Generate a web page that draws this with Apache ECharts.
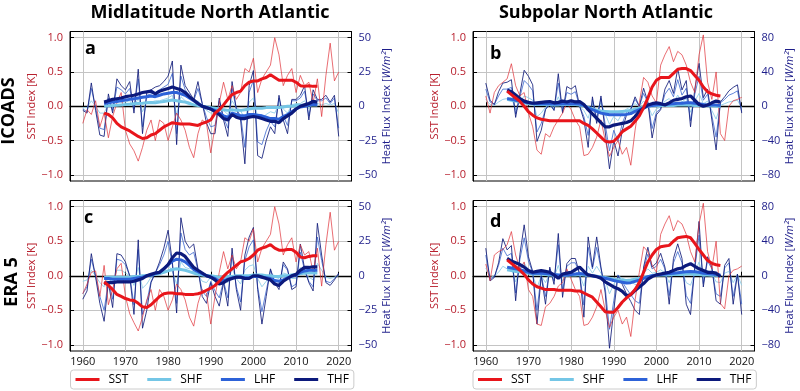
<!DOCTYPE html>
<html><head><meta charset="utf-8">
<script src="https://cdn.jsdelivr.net/npm/echarts@6/dist/echarts.min.js"></script>
<style>html,body{margin:0;padding:0;background:#fff}#c{width:800px;height:391px}</style>
</head><body><div id="c"></div>
<script>
// ---------- axes / ticks ----------
const years = []; for (let y = 1960; y <= 2020; y++) years.push(y);
const yearsSmooth = []; for (let y = 1965; y <= 2015; y++) yearsSmooth.push(y);
const xTicks = [1960, 1970, 1980, 1990, 2000, 2010, 2020];
const sstTicks = [-1, -0.5, 0, 0.5, 1];
const hfTicksMid = [-50, -25, 0, 25, 50];
const hfTicksSub = [-80, -40, 0, 40, 80];
const columnTitles = ['Midlatitude North Atlantic', 'Subpolar North Atlantic'];
const rowTitles = ['ICOADS', 'ERA 5'];
const panelLetters = ['a', 'b', 'c', 'd'];
const legendNames = ['SST', 'SHF', 'LHF', 'THF'];

// ---------- panel a (ICOADS, midlatitude) ----------
const aSST = [-0.25,-0.05,-0.12,0.08,-0.3,-0.1,-0.46,-0.15,0.05,0.2,
 -0.35,-0.55,-0.65,-0.8,-0.6,-0.35,-0.2,-0.5,-0.2,-0.25,
 -0.5,-0.3,-0.1,-0.2,-0.35,-0.6,-0.75,-0.4,-0.2,-0.25,
 -0.68,-0.3,0.05,0.35,0.1,0.3,0.1,0.2,0.55,0.5,
 0.7,0.2,0.4,0.5,0.6,1.0,0.75,0.3,0.45,0.55,
 0.2,0.45,0.3,0.35,0.05,0.4,-0.15,0.45,0.92,0.37,
 0.5];
const aTHF = [-3,-5,17,-3,-21,-22,9,-5,20,15,
 12,18,-5,27,-20,10,12,14,15,18,
 22,33,-28,30,15,10,5,18,2,-12,
 -20,-20,6,-10,-22,18,-2,-10,-42,15,
 26,-36,-38,-25,-15,-20,8,-10,-20,5,
 5,8,15,-10,12,5,5,8,3,8,
 -22];
const aLHF = [-2,-4,13,-1,-16,-17,6,-3,14,12,
 9,13,-2,20,-15,8,9,10,12,14,
 16,24,-20,22,12,8,4,13,2,-8,
 -15,-14,4,-8,-16,13,-2,-7,-30,10,
 19,-26,-28,-18,-11,-15,6,-7,-14,4,
 4,6,11,-7,9,4,4,6,2,6,
 -16];
const aSHF = [-1,-1,4,0,-5,-5,2,-1,5,3,
 3,4,-1,6,-4,3,3,4,4,5,
 6,8,-6,7,4,3,1,4,0,-3,
 -5,-5,1,-3,-6,4,-1,-3,-10,3,
 6,-8,-9,-6,-4,-5,2,-2,-5,1,
 2,2,4,-2,3,2,1,2,1,2,
 -5];
const aSSTs = [-0.1,-0.12,-0.17,-0.25,-0.3,-0.33,-0.36,-0.4,-0.44,-0.47,
 -0.46,-0.42,-0.4,-0.35,-0.3,-0.27,-0.24,-0.25,-0.26,-0.26,
 -0.26,-0.27,-0.28,-0.25,-0.23,-0.2,-0.1,-0.05,0.02,0.1,
 0.17,0.2,0.22,0.3,0.35,0.37,0.37,0.4,0.42,0.46,
 0.42,0.38,0.38,0.38,0.38,0.35,0.3,0.29,0.3,0.29,
 0.29];
const aTHFs = [3,4,5,5.5,6,7,7.5,8,9,10,
 10.5,11,9,11,12,13,14,13,12,10,
 7,4.5,2,0,-1,-2,-4,-6,-9,-10,
 -6,-8,-9,-9,-8,-7.5,-8,-9,-10,-11,
 -11,-12,-9,-7,-5,-2,0,1,2,3.5,
 3];
const aLHFs = [2,2.5,3,3.5,4,4.5,5,5.5,6,6.5,
 7,7.5,7,8,9,9.5,10,10,9,8,
 6,4,2,0,-1,-2,-3,-5,-7,-8,
 -5,-6,-7,-7,-6,-6,-6.5,-7,-8,-9,
 -9,-9.5,-7.5,-6,-4,-2,-0.5,0,1,1.5,
 1];
const aSHFs = [0,0.3,0.5,0.8,1,1.2,1.5,1.8,2,2.2,
 2.5,2.8,2.5,3,3.5,4,4.5,4,3.5,3,
 2,1,0.5,0,-0.5,-1,-1.5,-2,-2.5,-3,
 -2.5,-3,-3,-2.5,-2,-1.5,-1.5,-1.5,-1,-1,
 -1,-1,-0.5,0,0,0.5,0.5,1,1,1,
 1];

// ---------- panel b (ICOADS, subpolar) ----------
const bSST = [0.15,-0.1,0.2,0.3,0.35,0.4,0.62,0.3,0.15,0.2,
 -0.1,-0.3,-0.64,-0.7,-0.4,-0.45,-0.3,-0.2,-0.1,0.05,
 -0.05,-0.2,-0.3,-0.72,-0.7,-0.6,-0.45,-0.2,-0.5,-0.73,
 -0.6,-0.5,-0.7,-0.6,-0.86,-0.35,0.05,0.42,0.35,0.15,
 0.05,0.6,0.75,0.87,0.65,0.8,0.75,0.6,0.35,0.2,
 0.75,1.04,0.35,0.1,0.5,-0.4,-0.5,0.0,0.08,0.1,
 0.13];
const bTHF = [27,7,2,17,27,28,31,-13,15,42,
 35,25,-41,-28,-4,3,-5,38,-8,23,
 20,24,0,-16,-48,11,-20,12,-30,-73,
 -40,-58,-28,-10,-4,11,0,21,5,-37,
 -10,-4,20,30,15,44,19,30,-24,20,
 50,10,20,-16,-51,5,11,18,22,25,
 -8];
const bLHF = [20,5,2,12,20,20,22,-9,11,30,
 25,18,-30,-20,-3,2,-4,27,-6,16,
 14,17,0,-12,-34,8,-14,9,-21,-52,
 -28,-41,-20,-7,-3,8,0,15,4,-26,
 -7,-3,14,21,11,31,13,21,-17,14,
 35,7,14,-11,-36,4,8,13,15,18,
 -6];
const bSHF = [8,2,1,5,8,9,10,-4,5,12,
 10,7,-12,-8,-1,1,-2,11,-2,7,
 6,7,0,-5,-14,3,-6,4,-9,-21,
 -12,-17,-8,-3,-1,3,0,6,1,-11,
 -3,-1,6,9,4,13,5,9,-7,6,
 15,3,6,-5,-15,1,3,5,6,7,
 -2];
const bSSTs = [0.22,0.17,0.12,0.07,0,-0.08,-0.13,-0.17,-0.19,-0.2,
 -0.21,-0.21,-0.21,-0.21,-0.21,-0.21,-0.21,-0.21,-0.25,-0.28,
 -0.33,-0.39,-0.45,-0.51,-0.52,-0.51,-0.45,-0.37,-0.33,-0.29,
 -0.22,-0.14,-0.02,0.12,0.28,0.38,0.42,0.42,0.42,0.48,
 0.54,0.55,0.55,0.52,0.45,0.38,0.28,0.21,0.18,0.16,
 0.15];
const bTHFs = [19,17,13,9,6,4.5,3.5,4,4.5,5,
 5.5,4,4.5,6,5,6.5,5,5.5,2,-4,
 -9,-14,-19,-24,-24,-22,-21,-20,-19,-17,
 -12,-6,-2,1.5,3,4,3,1.5,4,7,
 8,9,11,12,7,2,0,1.5,4,6,
 5];
const bLHFs = [9,8,7,6,5,4,3.5,3,3,3,
 3,2.5,2.5,3,3,3,3,2.5,1,-2,
 -4,-6,-8,-9,-10,-10,-10,-10,-9.5,-8.5,
 -6,-4,-2,0,1,1.5,2,2,2.5,3,
 3.5,3.5,4,4,3.5,3,2,1.5,1.5,1.5,
 1];
const bSHFs = [8,7,6,5,4,3,2.5,2,2,2,
 2,1.5,1.5,2,2,2,2,1.5,0.5,-1.5,
 -3,-4.5,-5.5,-6,-6.5,-6.5,-6.5,-6,-5.5,-5,
 -3.5,-2,-1,0,0.5,0.5,1,1,1,1,
 1.5,1.5,1.5,1.5,1,1,0.5,0.5,0.5,0,
 0];

// ---------- panel c (ERA 5, midlatitude) ----------
const cSST = [-0.26,-0.12,0.05,0.07,-0.3,0.15,-0.42,-0.2,0.1,0.18,
 -0.3,-0.55,-0.68,-0.8,-0.6,-0.35,-0.2,-0.5,-0.2,-0.3,
 -0.5,-0.35,-0.12,-0.2,-0.35,-0.6,-0.73,-0.4,-0.2,-0.25,
 -0.7,-0.3,0.05,0.35,0.1,0.3,0.1,0.2,0.55,0.5,
 0.68,0.2,0.4,0.5,0.6,1.0,0.75,0.3,0.45,0.55,
 0.2,0.45,0.3,0.35,0.05,0.4,-0.15,0.45,0.92,0.37,
 0.5];
const cTHF = [-17,-11,16,-1,-20,-33,-5,-23,16,15,
 10,0,-28,26,-38,-25,-5,2,10,20,
 33,10,-27,42,25,20,23,5,-15,-20,
 -5,-15,-22,-5,-22,20,-10,-25,15,28,
 35,-10,-35,-15,5,-5,-10,10,5,-10,
 -8,23,5,-5,-11,38,15,-5,-7,-3,
 2];
const cLHF = [-13,-8,12,0,-15,-25,-4,-17,12,11,
 8,0,-21,19,-28,-19,-4,2,8,15,
 25,8,-20,31,19,15,17,4,-11,-15,
 -4,-11,-16,-4,-16,15,-8,-19,11,21,
 26,-8,-26,-11,4,-4,-8,8,4,-8,
 -6,17,4,-4,-8,28,11,-4,-5,-2,
 1];
const cSHF = [-4,-3,4,0,-5,-8,-1,-6,4,4,
 2,0,-7,6,-9,-6,-1,1,3,5,
 8,3,-6,10,6,5,6,1,-4,-5,
 -1,-4,-5,-1,-5,5,-2,-6,4,7,
 8,-2,-8,-4,1,-1,-2,2,1,-2,
 -2,6,1,-1,-3,9,4,-1,-2,-1,
 0];
const cSSTs = [-0.09,-0.14,-0.2,-0.27,-0.3,-0.33,-0.35,-0.36,-0.4,-0.45,
 -0.46,-0.42,-0.36,-0.3,-0.26,-0.25,-0.25,-0.26,-0.26,-0.27,
 -0.27,-0.27,-0.26,-0.24,-0.21,-0.18,-0.14,-0.08,-0.01,0.05,
 0.1,0.15,0.2,0.22,0.25,0.3,0.37,0.4,0.42,0.45,
 0.4,0.37,0.37,0.38,0.38,0.34,0.27,0.26,0.28,0.29,
 0.29];
const cTHFs = [-5.5,-5,-5,-4.5,-4.5,-4.5,-4.5,-4,-3,-2,
 0,1,2,2.5,5,8,13,16.5,16,14,
 10,6,4,2,0,-1,-3,-6,-5,-3,
 -2,-1,-1,-2,-2,0,0,-1,-2,-3,
 -6,-7,-4,-2,0,1,4,6,6,6.5,
 6.5];
const cLHFs = [-2,-2,-2.5,-2.5,-2.5,-2.5,-2.5,-2,-1.5,-1,
 0,0.5,1.5,2.5,5,8,10.5,12,11.5,10,
 7.5,4.5,3,1.5,0,-1,-2,-4,-3.5,-2.5,
 -1.5,-1,-1,-1.5,-1.5,-0.5,-0.5,-1,-1.5,-2,
 -3.5,-4,-3,-1.5,-0.5,0.5,2.5,3.5,4,4,
 4];
const cSHFs = [-1,-1,-1,-1,-1,-1,-1,-0.5,-0.5,0,
 0,0.5,1,1.5,2.5,3.5,4.5,5,4.5,4,
 3,2,1,0.5,0,0,-0.5,-1,-1,-0.5,
 -0.5,0,0,0,0,0.5,0.5,0.5,0,0,
 -0.5,-0.5,0,0,0.5,1,1.5,2,2,2,
 2];

// ---------- panel d (ERA 5, subpolar) ----------
const dSST = [0.17,-0.07,0.3,0.35,0.38,0.45,0.64,0.3,0.1,0.2,
 -0.2,-0.3,-0.7,-0.72,-0.45,-0.4,-0.3,-0.15,-0.1,0.1,
 -0.05,-0.2,-0.3,-0.72,-0.7,-0.6,-0.45,-0.2,-0.5,-0.75,
 -0.6,-0.5,-0.7,-0.6,-0.88,-0.35,0.05,0.42,0.35,0.15,
 0.05,0.6,0.75,0.87,0.65,0.8,0.75,0.6,0.35,0.2,
 0.75,1.05,0.35,0.1,0.5,-0.4,-0.48,0.0,0.08,0.1,
 0.14];
const dTHF = [32,-6,-2,15,43,30,35,-29,25,59,
 22,5,-56,0,-33,10,-10,49,-25,14,
 20,20,2,-48,45,10,45,10,-20,-84,
 -40,0,-10,-21,-30,-40,-45,10,33,10,
 15,26,10,-33,20,37,20,-33,-45,10,
 63,-13,22,10,-29,-33,12,20,-33,2,
 -45];
const dLHF = [24,-4,-1,12,32,23,26,-20,19,44,
 17,4,-40,1,-24,8,-6,36,-17,11,
 15,15,2,-34,33,8,33,8,-14,-62,
 -29,1,-7,-15,-22,-29,-32,8,25,8,
 11,19,8,-23,15,28,15,-23,-32,8,
 47,-9,17,8,-21,-24,9,15,-24,2,
 -33];
const dSHF = [9,-2,0,4,11,8,9,-7,7,15,
 6,1,-14,0,-8,3,-2,12,-6,4,
 5,5,1,-12,11,3,11,3,-5,-21,
 -10,0,-3,-5,-7,-10,-11,3,8,3,
 4,7,3,-8,5,9,5,-8,-11,3,
 16,-3,6,3,-7,-8,3,5,-8,1,
 -11];
const dSSTs = [0.23,0.18,0.13,0.08,0.02,-0.06,-0.12,-0.16,-0.18,-0.2,
 -0.2,-0.2,-0.21,-0.21,-0.21,-0.21,-0.22,-0.22,-0.25,-0.28,
 -0.31,-0.38,-0.45,-0.52,-0.53,-0.53,-0.46,-0.38,-0.32,-0.27,
 -0.2,-0.1,0.05,0.2,0.3,0.38,0.42,0.43,0.44,0.5,
 0.55,0.56,0.57,0.55,0.47,0.38,0.3,0.22,0.18,0.16,
 0.15];
const dTHFs = [20,17,15,13,10,6,4,5,6,5,
 4,1,-3,2,3,4,7,10,5,1,
 0,-1,-3,-7,-10,-13,-15,-18,-23,-22,
 -17,-13,-9,-4,-1,1,2,3,4,6,
 8,9,12,14,11,8,6,4,4,3,
 -1];
const dLHFs = [10,9,8,7,5.5,4,3,3,3,2.5,
 2,1.5,1,1,1,1.5,2,2.5,2,1,
 0,-1,-2,-3,-4,-5.5,-6.5,-7.5,-8.5,-8,
 -6.5,-5,-3,-1,0,1,1.5,2,2.5,3,
 3.5,4,4.5,5,4.5,4,3,2.5,2,1.5,
 1];
const dSHFs = [7,6,5,4.5,3.5,3,2,2,2,1.5,
 1,1,0.5,0.5,0.5,1,1,1.5,1,0.5,
 0,-0.5,-1.5,-2,-3,-4,-4.5,-5,-5.5,-5,
 -4,-3,-2,-1,0,0.5,1,1,1,1.5,
 1.5,1.5,2,2,1.5,1.5,1,1,0.5,0.5,
 0];

// ---------- styling ----------
const SST_RANGE = 1.09;
const font = '"Open Sans", "DejaVu Sans", sans-serif';
const redText = '#b8202e', blueText = '#1e1e8a';
const colThick = {SST: '#e8151b', SHF: '#74c6e6', LHF: '#2d62d8', THF: '#0c1a7c'};
const colThin = {SST: '#e03038', SHF: '#8fcde8', LHF: '#3a66d0', THF: '#121c7a'};
const opThin = {SST: 0.7, SHF: 0.9, LHF: 0.8, THF: 0.85};

const panels = [
  {grid: {left: 70, top: 31.5, width: 281.5, height: 149.5}, hf: 50, hfTicks: hfTicksMid, labels: false,
   thin: {SHF: aSHF, LHF: aLHF, THF: aTHF, SST: aSST}, thick: {SHF: aSHFs, LHF: aLHFs, THF: aTHFs, SST: aSSTs}},
  {grid: {left: 473, top: 31.5, width: 281.5, height: 149.5}, hf: 80, hfTicks: hfTicksSub, labels: false,
   thin: {SHF: bSHF, LHF: bLHF, THF: bTHF, SST: bSST}, thick: {SHF: bSHFs, LHF: bLHFs, THF: bTHFs, SST: bSSTs}},
  {grid: {left: 70, top: 200.5, width: 281.5, height: 150.5}, hf: 50, hfTicks: hfTicksMid, labels: true,
   thin: {SHF: cSHF, LHF: cLHF, THF: cTHF, SST: cSST}, thick: {SHF: cSHFs, LHF: cLHFs, THF: cTHFs, SST: cSSTs}},
  {grid: {left: 473, top: 200.5, width: 281.5, height: 150.5}, hf: 80, hfTicks: hfTicksSub, labels: true,
   thin: {SHF: dSHF, LHF: dLHF, THF: dTHF, SST: dSST}, thick: {SHF: dSHFs, LHF: dLHFs, THF: dTHFs, SST: dSSTs}}
];

const minus = s => String(s).replace('-', '\u2212');
const grid = [], xAxis = [], yAxis = [], series = [];
panels.forEach((p, i) => {
  grid.push(Object.assign({show: true, borderColor: '#000', borderWidth: 1, backgroundColor: 'transparent'}, p.grid));
  xAxis.push({
    type: 'value', gridIndex: i, min: 1957, max: 2023,
    axisLine: {show: true, lineStyle: {color: '#000'}},
    axisTick: {show: true, inside: true, length: 4, customValues: xTicks, lineStyle: {color: '#000'}},
    axisLabel: {show: p.labels, customValues: xTicks, margin: 5, color: '#111', fontSize: 11, fontFamily: font,
      formatter: v => String(v)},
    splitLine: {show: true, lineStyle: {color: '#c4c4c4', width: 1}}
  });
  yAxis.push({
    type: 'value', gridIndex: i, position: 'left', min: -SST_RANGE, max: SST_RANGE,
    name: 'SST Index [K]', nameLocation: 'middle', nameGap: 31, nameRotate: 90,
    nameTextStyle: {color: redText, fontSize: 11, fontFamily: font},
    axisLine: {show: true, lineStyle: {color: '#000'}},
    axisTick: {show: true, inside: true, length: 4, customValues: sstTicks, lineStyle: {color: '#000'}},
    axisLabel: {customValues: sstTicks, margin: 7, color: redText, fontSize: 11, fontFamily: font,
      formatter: v => minus(v.toFixed(1))},
    splitLine: {show: true, lineStyle: {color: '#c4c4c4', width: 1}}
  });
  yAxis.push({
    type: 'value', gridIndex: i, position: 'right', min: -SST_RANGE * p.hf, max: SST_RANGE * p.hf,
    name: '{n|Heat Flux Index [}{i|W/m\u00b2}{n|]}', nameLocation: 'middle', nameGap: 30, nameRotate: 90,
    nameTextStyle: {color: blueText, fontSize: 11, fontFamily: font,
      rich: {n: {color: blueText, fontSize: 11, fontFamily: font}, i: {color: blueText, fontSize: 11, fontFamily: font, fontStyle: 'italic'}}},
    axisLine: {show: true, lineStyle: {color: '#000'}},
    axisTick: {show: true, inside: true, length: 4, customValues: p.hfTicks, lineStyle: {color: '#000'}},
    axisLabel: {customValues: p.hfTicks, margin: 7, color: blueText, fontSize: 11, fontFamily: font,
      formatter: v => minus(v)},
    splitLine: {show: false}
  });
  const mk = (xs, ys) => xs.map((x, k) => [x, ys[k]]);
  ['SHF', 'LHF', 'THF', 'SST'].forEach(n => {
    series.push({
      type: 'line', name: n + ' annual', xAxisIndex: i, yAxisIndex: n === 'SST' ? 2 * i : 2 * i + 1,
      data: mk(years, p.thin[n]), showSymbol: false, symbol: 'none', silent: true, z: 2,
      lineStyle: {color: colThin[n], width: 1, opacity: opThin[n]}, itemStyle: {color: colThin[n]}
    });
  });
  ['SHF', 'LHF', 'THF', 'SST'].forEach(n => {
    const s = {
      type: 'line', name: n, xAxisIndex: i, yAxisIndex: n === 'SST' ? 2 * i : 2 * i + 1,
      data: mk(yearsSmooth, p.thick[n]), showSymbol: false, symbol: 'none', silent: true, z: 3,
      lineStyle: {color: colThick[n], width: n === 'THF' ? 3.2 : 3}, itemStyle: {color: colThick[n]}
    };
    if (n === 'SST') {
      s.markLine = {silent: true, symbol: 'none', label: {show: false}, z: 1,
        lineStyle: {color: '#000', width: 1.3, type: 'solid'}, data: [{yAxis: 0}], animation: false};
    }
    series.push(s);
  });
});

const legendBase = {
  data: legendNames, top: 370, icon: 'rect', itemWidth: 24, itemHeight: 3, itemGap: 19,
  padding: [2, 5, 2, 5], borderColor: '#cccccc', borderWidth: 1, borderRadius: 3,
  backgroundColor: '#fff', selectedMode: false,
  textStyle: {fontSize: 12, fontFamily: font, color: '#000', lineHeight: 15, padding: [0, 0, 0, 4]}
};
const legend = [Object.assign({left: 70.5}, legendBase), Object.assign({left: 473}, legendBase)];

const txt = (x, y, text, size, rot) => ({
  type: 'text', x: x, y: y, rotation: rot || 0, silent: true,
  style: {text: text, font: 'bold ' + size + 'px ' + font, fill: '#000', align: 'center', verticalAlign: 'middle'}
});
const letter = (x, y, text) => ({
  type: 'text', x: x, y: y, silent: true,
  style: {text: text, font: 'bold 18px ' + font, fill: '#000', align: 'left', verticalAlign: 'bottom'}
});
const graphic = [
  txt(210, 13, columnTitles[0], 18), txt(606, 13, columnTitles[1], 18),
  txt(9, 111, rowTitles[0], 18, Math.PI / 2), txt(12, 282, rowTitles[1], 18, Math.PI / 2),
  letter(85, 58, panelLetters[0]), letter(490, 63, panelLetters[1]),
  letter(84, 227, panelLetters[2]), letter(490, 231, panelLetters[3])
];

const chart = echarts.init(document.getElementById('c'), null, {renderer: 'canvas'});
chart.setOption({animation: false, backgroundColor: '#fff', grid, xAxis, yAxis, series, legend, graphic});
</script></body></html>
